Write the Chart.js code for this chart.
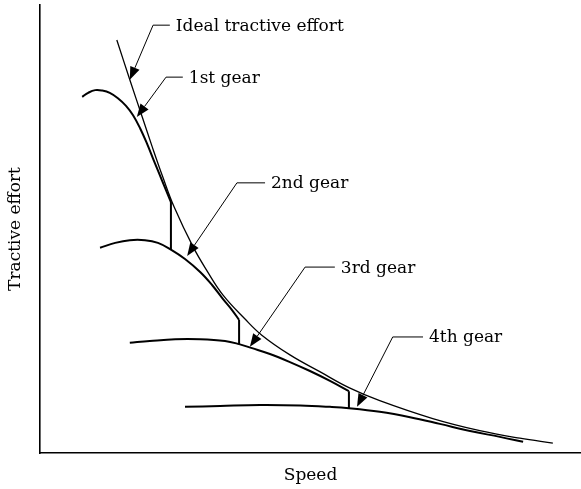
<!DOCTYPE html>
<html>
<head>
<meta charset="utf-8">
<script src="https://cdn.jsdelivr.net/npm/chart.js@4/dist/chart.umd.min.js"></script>
<style>
  html, body { margin: 0; padding: 0; background: #ffffff; }
  #wrap { width: 581px; height: 489px; }
</style>
</head>
<body>
<div id="wrap"><canvas id="c" width="581" height="489"></canvas></div>
<script>
// ---- Data (speed / tractive effort, arbitrary units 0..100) ----
const idealSpeed  = [14.2, 16.6, 18.9, 20.7, 22.7, 24.8, 28.3, 30.9, 33.8, 37.9, 41.0, 46.2, 51.8, 57.1, 62.8, 72.6, 81.3, 88.7, 94.8];
const idealEffort = [92.2, 83.3, 75.0, 68.5, 61.6, 54.9, 46.0, 40.6, 35.3, 29.9, 26.3, 21.9, 18.1, 14.6, 11.7, 7.7, 5.0, 3.3, 2.2];

const gear1Speed  = [7.8, 8.9, 10.2, 11.5, 12.9, 14.4, 15.9, 17.2, 18.5, 19.8, 21.1, 22.6, 24.2];
const gear1Effort = [79.5, 80.4, 81.0, 80.9, 80.4, 79.2, 77.5, 75.4, 72.5, 69.0, 65.1, 60.7, 56.0];

const gear2Speed  = [11.1, 13.9, 16.6, 19.4, 21.8, 24.2, 26.8, 29.6, 31.8, 33.8, 35.5, 36.8];
const gear2Effort = [45.8, 46.9, 47.5, 47.5, 46.9, 45.4, 43.3, 40.4, 37.5, 34.4, 31.9, 29.7];

const gear3Speed  = [16.6, 20.3, 25.0, 29.6, 34.2, 36.8, 39.2, 42.5, 46.2, 49.9, 53.6, 57.1];
const gear3Effort = [24.6, 25.0, 25.4, 25.4, 25.0, 24.3, 23.4, 22.1, 20.3, 18.3, 16.1, 13.8];

const gear4Speed  = [26.8, 33.3, 40.7, 48.1, 53.6, 57.1, 62.8, 68.4, 73.9, 79.5, 85.0, 89.3];
const gear4Effort = [10.3, 10.5, 10.7, 10.6, 10.3, 10.0, 9.2, 8.0, 6.5, 4.9, 3.6, 2.5];

// gear-shift drops
const shiftSpeed = [24.2, 36.8, 57.1];
const shiftUpper = [56.0, 29.7, 13.8];
const shiftLower = [45.4, 24.3, 10.0];

// annotations
const noteText        = ["Ideal tractive effort", "1st gear", "2nd gear", "3rd gear", "4th gear"];
const noteElbowSpeed  = [20.9, 23.3, 36.4, 49.0, 65.2];
const noteElbowEffort = [95.5, 83.9, 60.3, 41.5, 25.9];
const noteEndSpeed    = [24.0, 26.4, 41.6, 54.5, 70.8];
const noteTipSpeed    = [16.6, 17.9, 27.2, 38.8, 58.6];
const noteTipEffort   = [83.3, 75.0, 44.0, 23.7, 10.3];

const xTitle = "Speed";
const yTitle = "Tractive effort";

// ---- build ----
const FONT = "'DejaVu Serif', serif";
function pts(xs, ys) { return xs.map((x, i) => ({ x: x, y: ys[i] })); }

const datasets = [
  { label: 'Ideal', data: pts(idealSpeed, idealEffort), borderWidth: 1.3, tension: 0.4 },
  { label: '1st', data: pts(gear1Speed, gear1Effort), borderWidth: 2, tension: 0.4 },
  { label: '2nd', data: pts(gear2Speed, gear2Effort), borderWidth: 2, tension: 0.4 },
  { label: '3rd', data: pts(gear3Speed, gear3Effort), borderWidth: 2, tension: 0.4 },
  { label: '4th', data: pts(gear4Speed, gear4Effort), borderWidth: 2, tension: 0.4 }
];
shiftSpeed.forEach((s, i) => {
  datasets.push({ label: 'shift' + i, data: [{ x: s, y: shiftUpper[i] }, { x: s, y: shiftLower[i] }], borderWidth: 2, tension: 0 });
});
datasets.forEach(d => {
  d.showLine = true; d.borderColor = '#000'; d.pointRadius = 0; d.fill = false;
  d.borderCapStyle = 'butt';
});

const notesPlugin = {
  id: 'notes',
  afterDatasetsDraw(chart) {
    const ctx = chart.ctx, xs = chart.scales.x, ys = chart.scales.y;
    ctx.save();
    ctx.strokeStyle = '#000';
    ctx.fillStyle = '#000';
    ctx.lineWidth = 1;
    ctx.font = '17px ' + FONT;
    ctx.textBaseline = 'middle';
    ctx.textAlign = 'left';
    noteText.forEach((t, i) => {
      const ex = xs.getPixelForValue(noteElbowSpeed[i]);
      const ey = ys.getPixelForValue(noteElbowEffort[i]);
      const hx = xs.getPixelForValue(noteEndSpeed[i]);
      const tx = xs.getPixelForValue(noteTipSpeed[i]);
      const ty = ys.getPixelForValue(noteTipEffort[i]);
      const ang = Math.atan2(ty - ey, tx - ex);
      const L = 13, W = 5;
      const bx = tx - L * Math.cos(ang), by = ty - L * Math.sin(ang);
      ctx.beginPath();
      ctx.moveTo(hx, ey);
      ctx.lineTo(ex, ey);
      ctx.lineTo(bx, by);
      ctx.stroke();
      ctx.beginPath();
      ctx.moveTo(tx, ty);
      ctx.lineTo(bx + W * Math.sin(ang), by - W * Math.cos(ang));
      ctx.lineTo(bx - W * Math.sin(ang), by + W * Math.cos(ang));
      ctx.closePath();
      ctx.fill();
      ctx.fillText(t, hx + 6, ey + 1);
    });
    ctx.restore();
  }
};

new Chart(document.getElementById('c'), {
  type: 'scatter',
  data: { datasets: datasets },
  plugins: [notesPlugin],
  options: {
    responsive: false,
    animation: false,
    devicePixelRatio: 1,
    layout: { padding: { top: 5, right: 0, left: 0, bottom: 0 } },
    plugins: { legend: { display: false }, tooltip: { enabled: false } },
    scales: {
      x: {
        type: 'linear', min: 0, max: 100,
        ticks: { display: false },
        grid: { display: false, drawTicks: false },
        border: { display: true, color: '#000', width: 1.6 },
        title: { display: true, text: xTitle, color: '#000', font: { family: FONT, size: 17 }, padding: { top: 0, bottom: 3 } },
        afterFit(scale) { scale.height = 36; }
      },
      y: {
        type: 'linear', min: 0, max: 100,
        ticks: { display: false },
        grid: { display: false, drawTicks: false },
        border: { display: true, color: '#000', width: 1.6 },
        title: { display: true, text: yTitle, color: '#000', font: { family: FONT, size: 17 }, padding: { top: 5, bottom: 0 } },
        afterFit(scale) { scale.width = 40; }
      }
    }
  }
});
</script>
</body>
</html>
